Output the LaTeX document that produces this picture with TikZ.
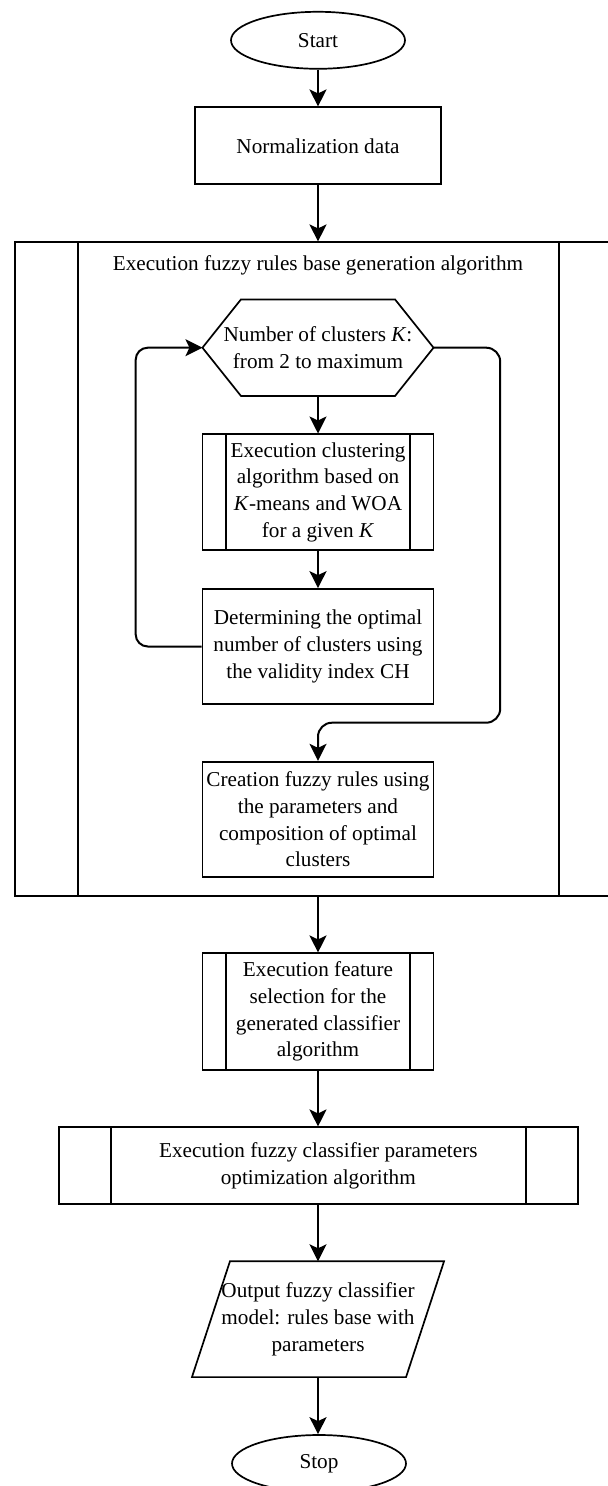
\documentclass[tikz,border=0pt]{standalone}
\usepackage{fontspec}
\setmainfont{Liberation Serif}
\usetikzlibrary{arrows.meta,shapes.geometric}
\begin{document}
\begin{tikzpicture}[x=0.5pt,y=-0.5pt,
  font=\fontsize{10.6}{13.35}\selectfont,
  box/.style={draw, line width=0.85pt, rectangle, align=center, inner sep=0pt, minimum width=115.55pt},
  term/.style={draw, line width=0.85pt, ellipse, inner sep=0pt, minimum width=87pt, minimum height=28.5pt},
  subproc/.style={box, path picture={\draw[line width=0.85pt] ([xshift=#1]path picture bounding box.north west) -- ([xshift=#1]path picture bounding box.south west) ([xshift=-#1]path picture bounding box.north east) -- ([xshift=-#1]path picture bounding box.south east);}},
  arr/.style={draw, line width=1pt, -{Stealth[length=8.5pt,width=8.5pt,inset=2pt]}},
  plainnode/.style={draw=none, align=center, inner sep=0pt}
]
\useasboundingbox (0,0) rectangle (608,1486);
\clip (0,0) rectangle (608,1486);
\fill[white] (0,0) rectangle (608,1486);

% terminals and boxes
\node[term] (start) at (318,40.3) {Start};
\node[box, minimum width=123pt, minimum height=38.5pt] (norm) at (318,145.8) {Normalization data};

\node[subproc=31.5pt, minimum width=303.5pt, minimum height=326.85pt] (gen) at (318.5,569.15) {};
\node[plainnode] (gentitle) at (318,265) {Execution fuzzy rules base generation algorithm};

\node[plainnode, minimum width=115.15pt, minimum height=47.85pt] (hex) at (318,347.7) {Number of clusters \textit{K}:\\from 2 to maximum};
\draw[line width=0.85pt] (hex.west) -- ([xshift=19.25pt]hex.north west) -- ([xshift=-19.25pt]hex.north east) -- (hex.east) -- ([xshift=-19.25pt]hex.south east) -- ([xshift=19.25pt]hex.south west) -- cycle;

\node[subproc=11.65pt, minimum height=57.85pt] (clust) at (318,492.2) {Execution clustering\\algorithm based on\\\textit{K}-means and WOA\\for a given \textit{K}};
\node[box, minimum height=57.5pt] (det) at (318,646.5) {Determining the optimal\\number of clusters using\\the validity index CH};
\node[box, minimum height=57.8pt] (create) at (318,819.5) {Creation fuzzy rules using\\the parameters and\\composition of optimal\\clusters};

\node[subproc=11.65pt, minimum height=58.2pt] (feat) at (318,1011.5) {Execution feature\\selection for the\\generated classifier\\algorithm};
\node[subproc=26pt, minimum width=259.4pt, minimum height=38.5pt] (opt) at (318.3,1165.8) {Execution fuzzy classifier parameters\\optimization algorithm};

\node[plainnode, minimum width=125.65pt, minimum height=57.5pt] (out) at (318,1319.2) {Output fuzzy classifier\\model: rules base with\\parameters};
\draw[line width=0.85pt] ([xshift=19pt]out.north west) -- (out.north east) -- ([xshift=-19pt]out.south east) -- (out.south west) -- cycle;

\node[term] (stop) at (319,1463.5) {Stop};

% connectors
\draw[arr] (start.south) -- (norm.north);
\draw[arr] (norm.south) -- (norm.south |- gen.north);
\draw[arr] (hex.south) -- (clust.north);
\draw[arr] (clust.south) -- (det.north);
\coordinate (loopL) at (135.7,500);
\draw[arr, rounded corners=6pt] (det.west) -- (det.west -| loopL) -- (hex.west -| loopL) -- (hex.west);
\coordinate (loopR) at (500.2,722.7);
\draw[arr, rounded corners=7pt] (hex.east) -- (hex.east -| loopR) -- (loopR) -- (loopR -| create.north) -- (create.north);
\draw[arr] (feat.north |- gen.south) -- (feat.north);
\draw[arr] (feat.south) -- (feat.south |- opt.north);
\draw[arr] (out.north |- opt.south) -- (out.north);
\draw[arr] (out.south) -- (out.south |- stop.north);
\end{tikzpicture}
\end{document}
